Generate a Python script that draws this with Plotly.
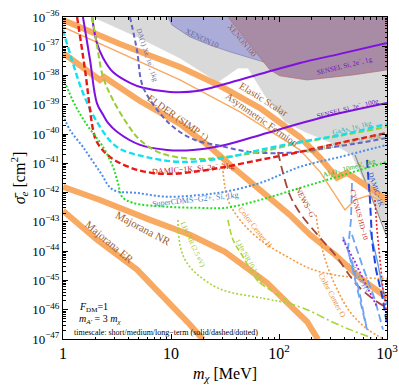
import numpy as np
import plotly.graph_objects as go

FONT = "Liberation Serif"

# mass in MeV, cross section as log10(sigma_e / cm^2)

# shaded regions
grey_m = [1.90, 5.16, 12.1, 27.2, 33.7, 41.7, 51.6, 75.8, 114, 174, 297, 474, 1000, 1000]
grey_s = [-36.0, -36.72, -37.40, -38.22, -37.98, -37.74, -37.74, -38.73, -39.58, -39.92, -40.27, -40.71, -43.34, -36.0]
xe10_m = [9.38, 10.2, 15.0, 23.0, 35.2, 53.8, 82.5, 1000, 1000]
xe10_s = [-36.0, -36.27, -36.68, -36.96, -37.19, -37.40, -37.60, -37.60, -36.0]
xe100_m = [33.7, 53.8, 82.5, 102, 182, 484, 1000, 1000]
xe100_s = [-36.0, -36.96, -37.81, -38.01, -38.15, -37.98, -37.81, -36.0]

# theory targets (orange)
scalar_m = [1, 3.37, 12.1, 28.4, 66.7, 156, 240, 344, 426, 626, 1000]
scalar_s = [-36.10, -36.92, -37.71, -38.35, -39.11, -40.10, -40.81, -41.49, -41.32, -41.73, -42.25]
fermion_m = [1, 12.1, 43.5, 156, 240, 330, 408, 505, 696, 1000]
fermion_s = [-36.34, -38.15, -39.24, -40.54, -41.29, -42.08, -42.59, -42.25, -42.08, -42.42]
elder_m = [1, 2.02, 2.20, 2.40, 2.84, 5.16, 12.1, 23.0, 35.2, 66.7, 126, 194, 330, 562, 1000]
elder_s = [-37.23, -38.01, -38.15, -38.05, -38.22, -38.87, -39.65, -40.44, -41.05, -41.90, -42.76, -43.44, -44.12, -44.91, -45.59]
majnr_m = [1, 2.20, 6.39, 15.0, 31.6, 77.4, 119, 182, 230]
majnr_s = [-41.80, -42.25, -42.93, -43.44, -44.02, -45.08, -45.76, -46.41, -47.02]
majer_m = [1, 1.44, 2.06, 4.84, 9.18, 15.0, 19.8]
majer_s = [-42.62, -43.10, -43.61, -44.63, -45.66, -46.51, -47.02]

# projections
sensei1_m = [1.86, 2.06, 2.35, 2.90, 4.17, 5.51, 9.79, 17.4, 31.6, 66.7, 156, 367, 1000]
sensei1_s = [-36.0, -36.89, -37.40, -37.88, -38.25, -38.42, -38.56, -38.53, -38.29, -37.95, -37.57, -37.26, -36.89]
sensei100_m = [1.53, 1.78, 2.06, 2.35, 2.61, 3.16, 5.16, 9.18, 16.0, 31.6, 77.4, 240, 1000]
sensei100_s = [-36.0, -37.47, -38.94, -39.34, -39.62, -39.92, -40.37, -40.54, -40.54, -40.37, -39.96, -39.45, -38.94]
damic_m = [1.35, 1.60, 1.90, 2.06, 2.72, 4.84, 9.18, 18.6, 31.6, 66.7, 156, 367, 1000]
damic_s = [-36.0, -37.81, -39.86, -40.27, -40.78, -41.22, -41.36, -41.26, -41.12, -40.88, -40.61, -40.30, -39.96]
gaas_m = [1, 1.21, 1.53, 2.06, 3.16, 6.39, 12.9, 31.6, 66.7, 156, 367, 1000]
gaas_s = [-36.44, -37.47, -38.59, -39.58, -40.44, -40.81, -40.95, -40.81, -40.54, -40.27, -40.03, -39.65]
ge_m = [1.86, 2.06, 2.35, 2.90, 4.17, 5.16, 7.91, 16.0, 31.6, 66.7, 156, 367, 1000]
ge_s = [-36.0, -36.96, -38.05, -38.83, -39.79, -40.20, -40.64, -40.85, -40.78, -40.61, -40.30, -40.06, -39.75]
xe_m = [4.17, 4.84, 5.51, 8.43, 11.4, 16.7, 28.4, 53.8, 119, 240, 505, 1000]
xe_s = [-36.0, -37.13, -38.39, -39.41, -39.86, -40.20, -40.40, -40.61, -40.64, -40.51, -40.33, -40.13]
cdms_m = [1, 1.16, 1.53, 2.20, 2.90, 4.84, 9.18, 18.6, 31.6, 66.7, 156, 367, 1000]
cdms_s = [-39.34, -39.86, -40.44, -41.29, -41.90, -42.01, -42.14, -42.08, -41.97, -41.67, -41.12, -40.78, -40.37]
al_m = [1, 1.29, 1.67, 2.35, 2.90, 3.23, 3.52, 4.45, 9.18, 18.6, 31.6, 66.7, 156, 367, 1000]
al_s = [-38.08, -39.00, -39.69, -40.44, -41.12, -41.67, -42.14, -42.35, -42.48, -42.52, -42.52, -42.25, -41.84, -41.43, -40.95]
news_m = [97.9, 107, 126, 156, 240, 330, 527, 808, 1000]
news_s = [-40.61, -41.22, -42.08, -42.69, -43.54, -44.12, -45.15, -45.73, -45.93]
cch_m = [29.7, 30.9, 33.7, 43.5, 66.7, 119, 206, 367, 626, 1000]
cch_s = [-40.71, -41.56, -42.25, -42.93, -43.61, -44.19, -44.63, -44.84, -44.91, -44.94]
cco_m = [220, 240, 272, 330, 454, 667, 958]
cco_s = [-42.76, -43.61, -44.36, -45.15, -46.07, -46.68, -47.02]
lhe1_m = [11.6, 12.1, 13.8, 18.6, 29.7, 66.7, 119]
lhe1_s = [-42.93, -43.78, -44.36, -44.87, -45.32, -45.59, -45.76]
lhe2_m = [33.7, 37.5, 46.4, 62.5, 82.5, 119]
lhe2_s = [-42.93, -43.61, -44.19, -44.98, -45.32, -45.66]
lhe3_m = [119, 182, 297, 454, 726]
lhe3_s = [-45.76, -46.00, -46.38, -46.68, -46.96]
edge_m = [505, 1000]
edge_s = [-40.71, -43.51]
damic1k_m = [653, 696, 726, 791, 918, 1000]
damic1k_s = [-40.88, -42.25, -43.61, -44.63, -45.66, -46.51]
cygnus_m = [474, 464, 435, 505, 653]
cygnus_s = [-41.67, -42.93, -43.95, -44.98, -46.68]
reddot_m = [774, 808, 861, 918, 1000]
reddot_s = [-42.25, -43.27, -44.29, -45.32, -46.17]
hv_m = [696, 808, 918, 1000]
hv_s = [-43.27, -44.29, -45.32, -45.83]
purdot_m = [391, 505, 626, 808]
purdot_s = [-43.61, -44.36, -45.08, -45.90]
sio2a_m = [391, 474, 562, 653]
sio2a_s = [-43.51, -44.36, -45.49, -46.68]
sio2b_m = [474, 587, 774, 918]
sio2b_s = [-43.44, -44.46, -45.66, -46.68]

ORANGE = "#f8aa62"
BROWN = "#a0622d"

fig = go.Figure()


def region(m, s, fill, edge):
    fig.add_trace(go.Scatter(x=m, y=10 ** np.array(s), mode="lines", fill="toself",
                             fillcolor=fill, line=dict(color=edge, width=0.7), hoverinfo="skip"))


def curve(m, s, color, width, dash="solid", shape="linear"):
    fig.add_trace(go.Scatter(x=m, y=10 ** np.array(s), mode="lines",
                             line=dict(color=color, width=width, dash=dash, shape=shape),
                             hoverinfo="skip"))


region(grey_m, grey_s, "#d9d9d9", "#d9d9d9")
region(xe10_m, xe10_s, "#abadd8", "#7b7bb4")
region(xe100_m, xe100_s, "#a88ba5", "#b07070")
curve(edge_m, edge_s, "#8c8c8c", 1.2)

curve(scalar_m, scalar_s, ORANGE, 6)
curve(fermion_m, fermion_s, ORANGE, 1.4)
curve(elder_m, elder_s, ORANGE, 6)
curve(majnr_m, majnr_s, ORANGE, 6)
curve(majer_m, majer_s, ORANGE, 6)

curve(cch_m, cch_s, "#f39a45", 1.6, "2px,2px", "spline")
curve(cco_m, cco_s, "#f39a45", 1.6, "2px,2px", "spline")
curve(lhe1_m, lhe1_s, "#a8d43a", 1.6, "2px,2px", "spline")
curve(lhe2_m, lhe2_s, "#a8d43a", 1.6, "6px,3px", "spline")
curve(lhe3_m, lhe3_s, "#a8d43a", 1.6, "8px,3px,2px,3px", "spline")

curve(sensei1_m, sensei1_s, "#7f10e0", 2, "solid", "spline")
curve(sensei100_m, sensei100_s, "#7f10e0", 2, "solid", "spline")
curve(xe_m, xe_s, "#6464c8", 2, "5px,3px", "spline")
curve(ge_m, ge_s, "#9acd32", 2, "6px,3px", "spline")
curve(gaas_m, gaas_s, "#10e0f0", 2.4, "6px,3px", "spline")
curve(damic_m, damic_s, "#e81818", 2.4, "6px,3px", "spline")
curve(cdms_m, cdms_s, "#4a8ee8", 2, "2px,2px", "spline")
curve(al_m, al_s, "#20dd20", 2, "2px,2px", "spline")
curve(news_m, news_s, "#a5453a", 1.8, "9px,5px", "spline")

curve(cygnus_m, cygnus_s, "#6ea4f2", 1.8, "8px,4px")
curve(sio2a_m, sio2a_s, "#6ea4f2", 1.8, "8px,4px")
curve(sio2b_m, sio2b_s, "#6ea4f2", 1.8, "8px,4px")
curve(hv_m, hv_s, "#5a9ef0", 1.4)
curve(purdot_m, purdot_s, "#9a30e0", 1.8, "2px,2px")
curve(reddot_m, reddot_s, "#ee2222", 1.6, "2px,2px")
curve(damic1k_m, damic1k_s, "#2244e0", 2, "8px,4px")

# curve labels: text, mass, log10 sigma, angle, colour, size
labels = [
    ("XENON10", 19.4, -36.72, 25, "#6a6a9e", 8),
    ("XENON100", 45.4, -36.80, 50, "#9a5a5a", 8),
    ("SENSEI, Si, 2e<sup>−</sup>, 1g", 408, -37.64, -14, "#6a10c0", 7),
    ("SENSEI, Si, 2e<sup>−</sup>, 100g", 435, -39.14, -14, "#6a10c0", 7),
    ("Elastic Scalar", 72.6, -38.83, 32, BROWN, 10),
    ("Asymmetric Fermion", 69.6, -39.50, 35, BROWN, 10),
    ("ELDER (SIMP ↑)", 11.6, -39.45, 35, BROWN, 10),
    ("DA(1) Xe, 1e<sup>−</sup>, 1kg", 6.12, -37.30, 72, "#6a6aa8", 7),
    ("GaAs, 1y, 1kg", 474, -39.79, -14, "#30b0b0", 7),
    ("SuperCDMS-G2, Ge, 1e<sup>−</sup>, 650g", 391, -40.30, -12, "#8a8a30", 6),
    ("DAMIC−1K, Si, 2e<sup>−</sup>, 1kg", 16.0, -41.15, -4, "#c82020", 8),
    ("SuperCDMS−G2+, Si, 1kg", 16.7, -42.25, -6, "#4a7ac8", 8),
    ("Al<sub>2</sub>O<sub>3</sub>, 10meV, 1kg", 454, -41.15, -15, "#20b020", 7),
    ("NEWS−G", 174, -42.35, 62, "#a5453a", 8),
    ("Color Center H", 60.0, -43.20, 52, "#f08a35", 8),
    ("Color Center O", 310, -45.52, 62, "#f08a35", 8),
    ("LHe NR (2.5 eV)", 16.0, -43.78, 65, "#a0c830", 7),
    ("LHe NR (0.1 eV)", 53.8, -44.36, 60, "#a0c830", 7),
    ("Majorana NR", 5.51, -43.20, 28, BROWN, 11),
    ("Majorana ER", 2.72, -43.68, 40, BROWN, 11),
    ("CYGNUS HD−10", 551, -42.76, 75, "#d02020", 7),
    ("DAMIC−1K", 791, -41.90, 72, "#2244c0", 7),
    ("SiO<sub>2</sub>/Ge HV", 560, -44.9, 60, "#5a8ee0", 7),
]
for text, m, s, ang, col, size in labels:
    fig.add_annotation(x=np.log10(m), y=s, xref="x", yref="y", text=text, textangle=ang,
                       showarrow=False, font=dict(family=FONT, size=size, color=col))

notes = [
    ("<i>F</i><sub>DM</sub>=1", 0.043, 0.099, 10),
    ("<i>m</i><sub><i>A'</i></sub> = 3 <i>m</i><sub><i>χ</i></sub>", 0.043, 0.060, 10),
    ("timescale: short/medium/long−term (solid/dashed/dotted)", 0.028, 0.019, 8),
]
for text, px, py, size in notes:
    fig.add_annotation(x=px, y=py, xref="paper", yref="paper", text=text, showarrow=False,
                       xanchor="left", yanchor="middle", font=dict(family=FONT, size=size, color="black"))

xt = [1, 10, 100, 1000]
xt_text = ["1", "10", "10<sup>2</sup>", "10<sup>3</sup>"]
yt = [10.0 ** -k for k in range(36, 48)]
yt_text = ["10<sup>−%d</sup>" % k for k in range(36, 48)]

axis = dict(type="log", showgrid=False, zeroline=False, showline=True, linecolor="black",
            linewidth=1, mirror="ticks", ticks="inside", ticklen=5, tickcolor="black",
            tickmode="array", automargin=False,
            minor=dict(ticks="inside", ticklen=2.5, tickcolor="black", dtick="D1", showgrid=False))

fig.update_layout(
    width=399, height=388,
    margin=dict(l=63, r=12, t=17, b=49),
    paper_bgcolor="white", plot_bgcolor="white",
    showlegend=False,
    xaxis=dict(axis, range=[0, 3], tickvals=xt, ticktext=xt_text,
               tickfont=dict(family=FONT, size=16, color="black"),
               title=dict(text="<i>m</i><sub><i>χ</i></sub> [MeV]", standoff=6,
                          font=dict(family=FONT, size=16, color="black"))),
    yaxis=dict(axis, range=[-47, -36], tickvals=yt, ticktext=yt_text,
               tickfont=dict(family=FONT, size=13, color="black"),
               title=dict(text="<i>σ̄</i><sub><i>e</i></sub> [cm<sup>2</sup>]", standoff=2,
                          font=dict(family=FONT, size=16, color="black"))),
)

# the page's default body margin would push the figure 8px right and down
fig.write_html("out.html", config={"displayModeBar": False},
               post_script="document.body.style.margin = '0';")
